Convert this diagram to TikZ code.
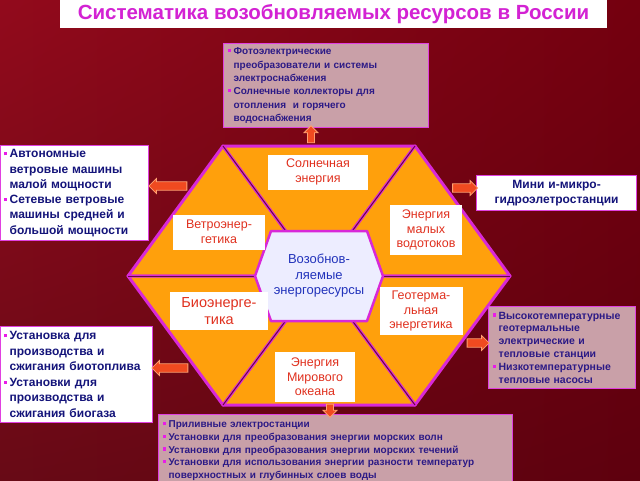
\documentclass[tikz,border=0pt]{standalone}
\usepackage{fontspec}
\setmainfont{Liberation Sans}
\usetikzlibrary{shapes.arrows,shadings,positioning,calc}
\definecolor{bgA}{HTML}{920A1C}
\definecolor{bgB}{HTML}{74000F}
\definecolor{bgC}{HTML}{680A16}
\definecolor{bgD}{HTML}{5E000E}
\definecolor{sliceorange}{HTML}{FFA00C}
\definecolor{slicemag}{HTML}{D828D8}
\definecolor{spokedark}{HTML}{6A0A40}
\definecolor{labred}{HTML}{E0301E}
\definecolor{boxpink}{HTML}{C9A0A8}
\definecolor{boxmag}{HTML}{E040E0}
\definecolor{bulmag}{HTML}{E81CE8}
\definecolor{navy}{HTML}{14147A}
\definecolor{inkpurple}{HTML}{2C1A86}
\definecolor{hubblue}{HTML}{2233BB}
\definecolor{titlemag}{HTML}{D322D3}
\definecolor{arrowred}{HTML}{F04A20}
\definecolor{arrowedge}{HTML}{FFA070}
\newcommand{\itm}{\makebox[6pt][l]{\textcolor{bulmag}{\rule[2.5pt]{3.2pt}{3.2pt}}}}
\newcommand{\ind}{\hspace*{6pt}}
\tikzstyle{slice} = [fill=sliceorange, draw=slicemag, line width=3pt, line join=round]
\tikzstyle{spoke} = [draw=spokedark, line width=1pt]
\tikzstyle{labelbox} = [rectangle, fill=white, text=labred, align=center, inner sep=2pt, font=\fontsize{12.5}{14.5}\selectfont]
\tikzstyle{whitebox} = [rectangle, draw=boxmag, line width=1.2pt, fill=white, text=navy, align=left, anchor=north west, inner sep=3pt, font=\bfseries\fontsize{12.5}{15.4}\selectfont]
\tikzstyle{pinkbox} = [whitebox, fill=boxpink, text=inkpurple, inner sep=4pt, font=\bfseries\fontsize{10}{13.3}\selectfont]
\tikzstyle{blockarrow} = [single arrow, fill=arrowred, draw=arrowedge, line width=0.8pt, minimum width=15pt, inner sep=3.5pt, single arrow head extend=3pt]

\begin{document}
\begin{tikzpicture}[x=1pt, y=-1pt]
		\useasboundingbox (0,0) rectangle (640,480);
		\shade[upper left=bgA, upper right=bgB, lower left=bgC, lower right=bgD] (0,0) rectangle (640,480);

		% Title
		\node[rectangle, fill=white, minimum width=547pt, minimum height=28pt, text=titlemag, font=\bfseries\fontsize{20.5}{24}\selectfont] (Title) at (333.5,14) {Систематика возобновляемых ресурсов в России};

		% Hexagon
		\coordinate (C) at (319,276);
		\coordinate (L) at (128,276);
		\coordinate (TL) at (223,146);
		\coordinate (TR) at (415,146);
		\coordinate (R) at (510,276);
		\coordinate (BR) at (415,405);
		\coordinate (BL) at (223,405);
		\foreach \a/\b in {L/TL,TL/TR,TR/R,R/BR,BR/BL,BL/L}
			\draw[slice] (C) -- (\a) -- (\b) -- cycle;
		\foreach \v in {L,TL,TR,R,BR,BL}
			\draw[spoke] (C) -- (\v);
		\draw[fill=white!93!blue, draw=slicemag, line width=2.5pt, line join=round]
			($(C)+(-64,0)$) -- ($(C)+(-48,-45)$) -- ($(C)+(48,-45)$) -- ($(C)+(64,0)$) -- ($(C)+(48,45)$) -- ($(C)+(-48,45)$) -- cycle;
		\node[text=hubblue, align=center, font=\fontsize{13}{15.5}\selectfont] (Hub) at (C) {Возобнов-\\ляемые\\энергоресурсы};

		% Labels
		\node[labelbox, minimum width=100pt, minimum height=35pt] (Solar) at (318,172) {Солнечная\\энергия};
		\node[labelbox, minimum width=92pt, minimum height=35pt] (Wind) at (219,232) {Ветроэнер-\\гетика};
		\node[labelbox, minimum width=72pt, minimum height=50pt] (Hydro) at (426,230) {Энергия\\малых\\водотоков};
		\node[labelbox, minimum width=98pt, minimum height=38pt, font=\fontsize{14.5}{16.5}\selectfont] (Bio) at (219,311) {Биоэнерге-\\тика};
		\node[labelbox, minimum width=83pt, minimum height=48pt] (Geo) at (421,311) {Геотерма-\\льная\\энергетика};
		\node[labelbox, minimum width=80pt, minimum height=50pt] (Ocean) at (315,377) {Энергия\\Мирового\\океана};

		% Boxes
		\node[pinkbox, text width=197pt, minimum height=84pt] (SolarBox) at (223,43) {\itm Фотоэлектрические\\ \ind преобразователи и системы\\ \ind электроснабжения\\ \itm Солнечные коллекторы для\\ \ind отопления\ \ и горячего\\ \ind водоснабжения};
		\node[whitebox, text width=142pt, minimum height=95pt, font=\bfseries\fontsize{12}{15.3}\selectfont] (WindBox) at (0,145) {\itm Автономные\\ \ind ветровые машины\\ \ind малой мощности\\ \itm Сетевые ветровые\\ \ind машины средней и\\ \ind большой мощности};
		\node[whitebox, text width=154pt, minimum height=35pt, align=center, font=\bfseries\fontsize{12}{15}\selectfont] (HydroBox) at (476,175) {Мини и-микро-\\гидроэлетростанции};
		\node[pinkbox, text width=139pt, minimum height=82pt, font=\bfseries\fontsize{10.5}{12.8}\selectfont] (GeoBox) at (488,306) {\itm Высокотемпературные\\ \ind геотермальные\\ \ind электрические и\\ \ind тепловые станции\\ \itm Низкотемпературные\\ \ind тепловые насосы};
		\node[whitebox, text width=146pt, minimum height=96pt, font=\bfseries\fontsize{12}{15.5}\selectfont] (BioBox) at (0,326) {\itm Установка для\\ \ind производства и\\ \ind сжигания биотоплива\\ \itm Установки для\\ \ind производства и\\ \ind сжигания биогаза};
		\node[pinkbox, text width=346pt, inner ysep=2pt, minimum height=72pt, font=\bfseries\fontsize{10}{12.6}\selectfont] (OceanBox) at (158,414) {\itm Приливные электростанции\\ \itm Установки для преобразования энергии морских волн\\ \itm Установки для преобразования энергии морских течений\\ \itm Установки для использования энергии разности температур\\ \ind поверхностных и глубинных слоев воды};

		% Arrows
		\node[blockarrow, minimum height=17pt, inner sep=2.5pt, minimum width=14pt, shape border rotate=90] (SolarArrow) at (311,136) {};
		\node[blockarrow, minimum height=38pt, shape border rotate=180] (WindArrow) at (170,186) {};
		\node[blockarrow, minimum height=25pt] (HydroArrow) at (463,188) {};
		\node[blockarrow, minimum height=22pt] (GeoArrow) at (476,343) {};
		\node[blockarrow, minimum height=36pt, shape border rotate=180] (BioArrow) at (172,368) {};
		\node[blockarrow, minimum height=13pt, inner sep=2.5pt, minimum width=14pt, shape border rotate=270] (OceanArrow) at (330,409) {};
	\end{tikzpicture}
\end{document}
